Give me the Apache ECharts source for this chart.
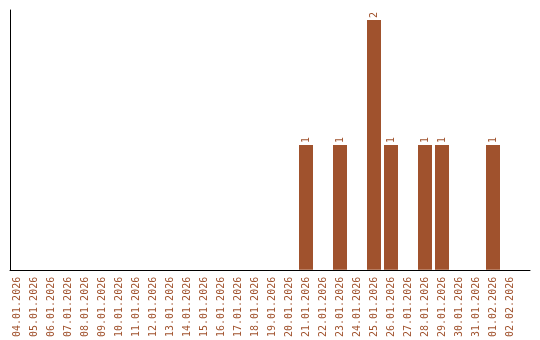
<!DOCTYPE html>
<html>
<head>
<meta charset="utf-8">
<script src="https://cdn.jsdelivr.net/npm/echarts@6/dist/echarts.min.js"></script>
<style>html,body{margin:0;padding:0;background:#fff}#c{width:540px;height:340px}</style>
</head>
<body>
<div id="c"></div>
<script>
const categories = ["04.01.2026","05.01.2026","06.01.2026","07.01.2026","08.01.2026","09.01.2026","10.01.2026","11.01.2026","12.01.2026","13.01.2026","14.01.2026","15.01.2026","16.01.2026","17.01.2026","18.01.2026","19.01.2026","20.01.2026","21.01.2026","22.01.2026","23.01.2026","24.01.2026","25.01.2026","26.01.2026","27.01.2026","28.01.2026","29.01.2026","30.01.2026","31.01.2026","01.02.2026","02.02.2026"];
const counts = [0,0,0,0,0,0,0,0,0,0,0,0,0,0,0,0,0,1,0,1,0,2,1,0,1,1,0,0,1,0];

const color = '#A0522D';
const font = 'DejaVu Sans Mono';
const chart = echarts.init(document.getElementById('c'), null, {renderer: 'canvas'});
chart.setOption({
  animation: false,
  grid: [
    {left: 8.5, width: 510, top: 10, height: 260},
    {left: 10, right: 10, top: 10, height: 260}
  ],
  xAxis: [
    {
      type: 'category', gridIndex: 0, data: categories,
      axisLine: {show: false}, axisTick: {show: false},
      axisLabel: {rotate: 90, interval: 0, color: color, fontFamily: font, fontSize: 10, margin: 7}
    },
    {
      type: 'value', gridIndex: 1, min: 0, max: 1,
      axisLine: {show: true, lineStyle: {color: '#000', width: 1}},
      axisTick: {show: false}, axisLabel: {show: false}, splitLine: {show: false}
    }
  ],
  yAxis: [
    {
      type: 'value', gridIndex: 0, min: 0, max: 2.08,
      axisLine: {show: false}, axisTick: {show: false}, axisLabel: {show: false}, splitLine: {show: false}
    },
    {
      type: 'value', gridIndex: 1, min: 0, max: 1,
      axisLine: {show: true, lineStyle: {color: '#000', width: 1}},
      axisTick: {show: false}, axisLabel: {show: false}, splitLine: {show: false}
    }
  ],
  series: [{
    type: 'bar', xAxisIndex: 0, yAxisIndex: 0,
    data: counts.map(v => v === 0 ? null : v),
    barWidth: 14,
    itemStyle: {color: color},
    label: {
      show: true, position: 'top', rotate: 90, align: 'left', verticalAlign: 'middle',
      distance: 2, color: color, fontFamily: font, fontSize: 10
    }
  }]
});
</script>
</body>
</html>
